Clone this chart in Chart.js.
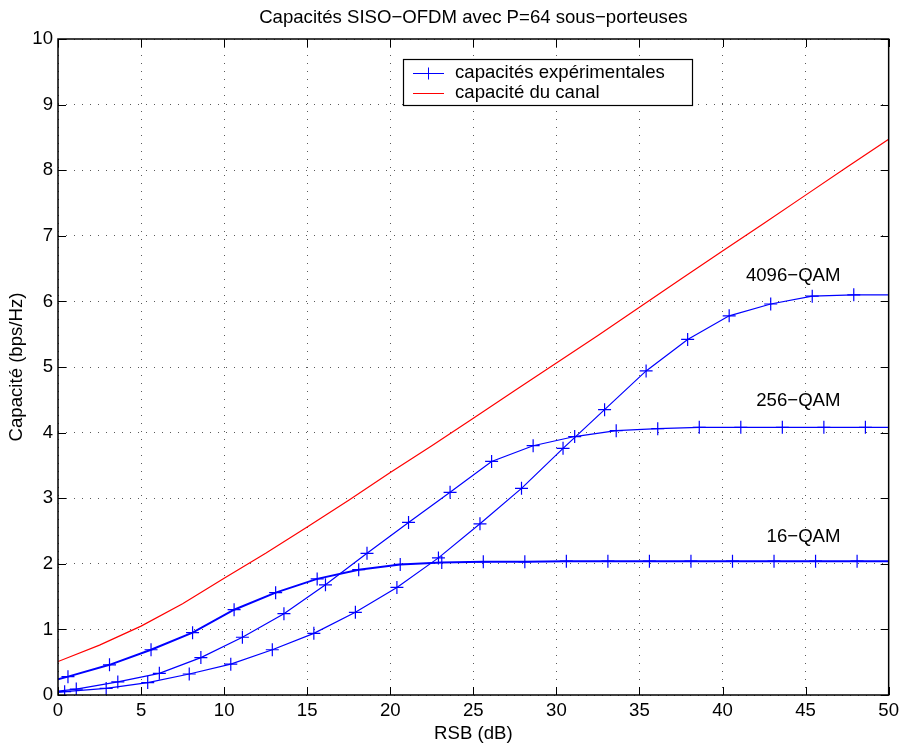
<!DOCTYPE html>
<html>
<head>
<meta charset="utf-8">
<script src="https://cdn.jsdelivr.net/npm/chart.js@4.4.0/dist/chart.umd.min.js"></script>
<style>
html, body { margin: 0; padding: 0; background: #fff; }
</style>
</head>
<body>
<canvas id="capChart" width="904" height="746"></canvas>
<script>
// tick labels
const xTicks = [0, 5, 10, 15, 20, 25, 30, 35, 40, 45, 50];
const yTicks = [0, 1, 2, 3, 4, 5, 6, 7, 8, 9, 10];

// 16-QAM
const qam16X = [0, 0.6, 3.1, 5.6, 8.1, 10.6, 13.1, 15.6, 18.1, 20.6, 23.1, 25.6, 28.1, 30.6, 33.1, 35.6, 38.1, 40.6, 43.1, 45.6, 48.1, 50];
const qam16Y = [0.24, 0.28, 0.46, 0.69, 0.95, 1.30, 1.56, 1.77, 1.91, 1.99, 2.02, 2.03, 2.03, 2.04, 2.04, 2.04, 2.04, 2.04, 2.04, 2.04, 2.04, 2.04];

// 256-QAM
const qam256X = [0, 1.1, 3.6, 6.1, 8.6, 11.1, 13.6, 16.1, 18.6, 21.1, 23.6, 26.1, 28.6, 31.1, 33.6, 36.1, 38.6, 41.1, 43.6, 46.1, 48.6, 50];
const qam256Y = [0.06, 0.09, 0.20, 0.33, 0.57, 0.88, 1.24, 1.68, 2.16, 2.63, 3.09, 3.56, 3.80, 3.94, 4.03, 4.06, 4.08, 4.08, 4.08, 4.08, 4.08, 4.08];

// 4096-QAM
const qam4096X = [0, 0.4, 2.9, 5.4, 7.9, 10.4, 12.9, 15.4, 17.9, 20.4, 22.9, 25.4, 27.9, 30.4, 32.9, 35.4, 37.9, 40.4, 42.9, 45.4, 47.9, 50];
const qam4096Y = [0.04, 0.05, 0.10, 0.19, 0.32, 0.47, 0.69, 0.94, 1.26, 1.64, 2.09, 2.61, 3.15, 3.76, 4.35, 4.94, 5.42, 5.78, 5.96, 6.08, 6.10, 6.10];

// capacité du canal
const canalX = [0, 2.5, 5, 7.5, 10, 12.5, 15, 17.5, 20, 22.5, 25, 27.5, 30, 32.5, 35, 37.5, 40, 42.5, 45, 47.5, 50];
const canalY = [0.51, 0.76, 1.05, 1.39, 1.78, 2.16, 2.56, 2.97, 3.39, 3.80, 4.22, 4.64, 5.06, 5.48, 5.91, 6.34, 6.77, 7.19, 7.62, 8.05, 8.47];

const qamLabels = ['16−QAM', '256−QAM', '4096−QAM'];
const titleText = 'Capacités SISO−OFDM avec P=64 sous−porteuses';

const FONT = '"Liberation Sans", Arial, Helvetica, sans-serif';
const FSIZE = 18.6;
Chart.defaults.font.family = FONT;
Chart.defaults.font.size = FSIZE;
Chart.defaults.color = '#000';

function pts(xs, ys) {
    return xs.map((x, i) => ({ x: x, y: ys[i] }));
}

function expSet(xs, ys, width) {
    return {
        data: pts(xs, ys),
        borderColor: '#0000ff',
        backgroundColor: '#0000ff',
        borderWidth: width,
        pointStyle: 'cross',
        pointRadius: ctx => (ctx.dataIndex === 0 || ctx.dataIndex === xs.length - 1) ? 0 : 6.5,
        pointBorderWidth: 1.2,
        tension: 0,
        fill: false
    };
}

// title, box, inner ticks, legend and curve labels
const decor = {
    id: 'decor',
    afterDatasetsDraw(chart) {
        const ctx = chart.ctx;
        const a = chart.chartArea;
        const sx = chart.scales.x, sy = chart.scales.y;
        ctx.save();
        ctx.strokeStyle = '#000';
        ctx.lineWidth = 1;
        xTicks.forEach(v => {
            const px = Math.round(sx.getPixelForValue(v)) + 0.5;
            ctx.beginPath();
            ctx.moveTo(px, a.bottom); ctx.lineTo(px, a.bottom - 8);
            ctx.moveTo(px, a.top); ctx.lineTo(px, a.top + 8);
            ctx.stroke();
        });
        yTicks.forEach(v => {
            const py = Math.round(sy.getPixelForValue(v)) + 0.5;
            ctx.beginPath();
            ctx.moveTo(a.left, py); ctx.lineTo(a.left + 8, py);
            ctx.moveTo(a.right, py); ctx.lineTo(a.right - 8, py);
            ctx.stroke();
        });
        ctx.lineWidth = 1.5;
        ctx.strokeRect(a.left, a.top, a.right - a.left, a.bottom - a.top);

        ctx.fillStyle = '#000';
        ctx.font = FSIZE + 'px ' + FONT;
        ctx.textAlign = 'center';
        ctx.textBaseline = 'middle';
        ctx.fillText(titleText, (a.left + a.right) / 2, 18);

        // legend
        ctx.fillStyle = '#fff';
        ctx.fillRect(403, 59, 289, 46);
        ctx.lineWidth = 1.2;
        ctx.strokeStyle = '#000';
        ctx.strokeRect(403.5, 59.5, 289, 46);
        ctx.lineWidth = 1;
        ctx.strokeStyle = '#0000ff';
        ctx.beginPath();
        ctx.moveTo(413, 73.5); ctx.lineTo(444, 73.5);
        ctx.moveTo(428.5, 67.5); ctx.lineTo(428.5, 79.5);
        ctx.stroke();
        ctx.strokeStyle = '#ff0000';
        ctx.beginPath();
        ctx.moveTo(413, 93.5); ctx.lineTo(444, 93.5);
        ctx.stroke();
        ctx.fillStyle = '#000';
        ctx.textAlign = 'left';
        ctx.fillText('capacités expérimentales', 455, 73);
        ctx.fillText('capacité du canal', 455, 93);

        // curve labels
        const lx = sx.getPixelForValue(47.1);
        const ly = [2.41, 4.49, 6.39];
        ctx.textAlign = 'right';
        qamLabels.forEach((t, i) => ctx.fillText(t, lx, sy.getPixelForValue(ly[i])));
        ctx.restore();
    }
};

const capCtx = document.getElementById('capChart').getContext('2d');
new Chart(capCtx, {
    type: 'line',
    data: {
        datasets: [
            expSet(qam16X, qam16Y, 2),
            expSet(qam256X, qam256Y, 1.2),
            expSet(qam4096X, qam4096Y, 1.2),
            {
                data: pts(canalX, canalY),
                borderColor: '#ff0000',
                borderWidth: 1.2,
                pointRadius: 0,
                tension: 0,
                fill: false
            }
        ]
    },
    options: {
        responsive: false,
        animation: false,
        devicePixelRatio: 1,
        layout: { padding: { left: 0, right: 15, top: 39, bottom: 0 } },
        plugins: {
            legend: { display: false },
            tooltip: { enabled: false },
            title: { display: false }
        },
        scales: {
            x: {
                type: 'linear',
                min: 0,
                max: 50,
                afterBuildTicks: s => { s.ticks = xTicks.map(v => ({ value: v })); },
                afterFit: s => { s.height = 51; },
                ticks: { padding: 5, maxRotation: 0, color: '#000' },
                grid: { color: 'rgba(0,0,0,0.65)', drawTicks: false, lineWidth: 1 },
                border: { display: false, dash: [1, 7] },
                title: { display: true, text: 'RSB (dB)', color: '#000', padding: { top: 0, bottom: 1 } }
            },
            y: {
                min: 0,
                max: 10,
                afterBuildTicks: s => { s.ticks = yTicks.map(v => ({ value: v })); },
                afterFit: s => { s.width = 58; },
                ticks: { padding: 5, color: '#000' },
                grid: { color: 'rgba(0,0,0,0.65)', drawTicks: false, lineWidth: 1 },
                border: { display: false, dash: [1, 7] },
                title: { display: true, text: 'Capacité (bps/Hz)', color: '#000', padding: { top: 6, bottom: 0 } }
            }
        }
    },
    plugins: [decor]
});
</script>
</body>
</html>
